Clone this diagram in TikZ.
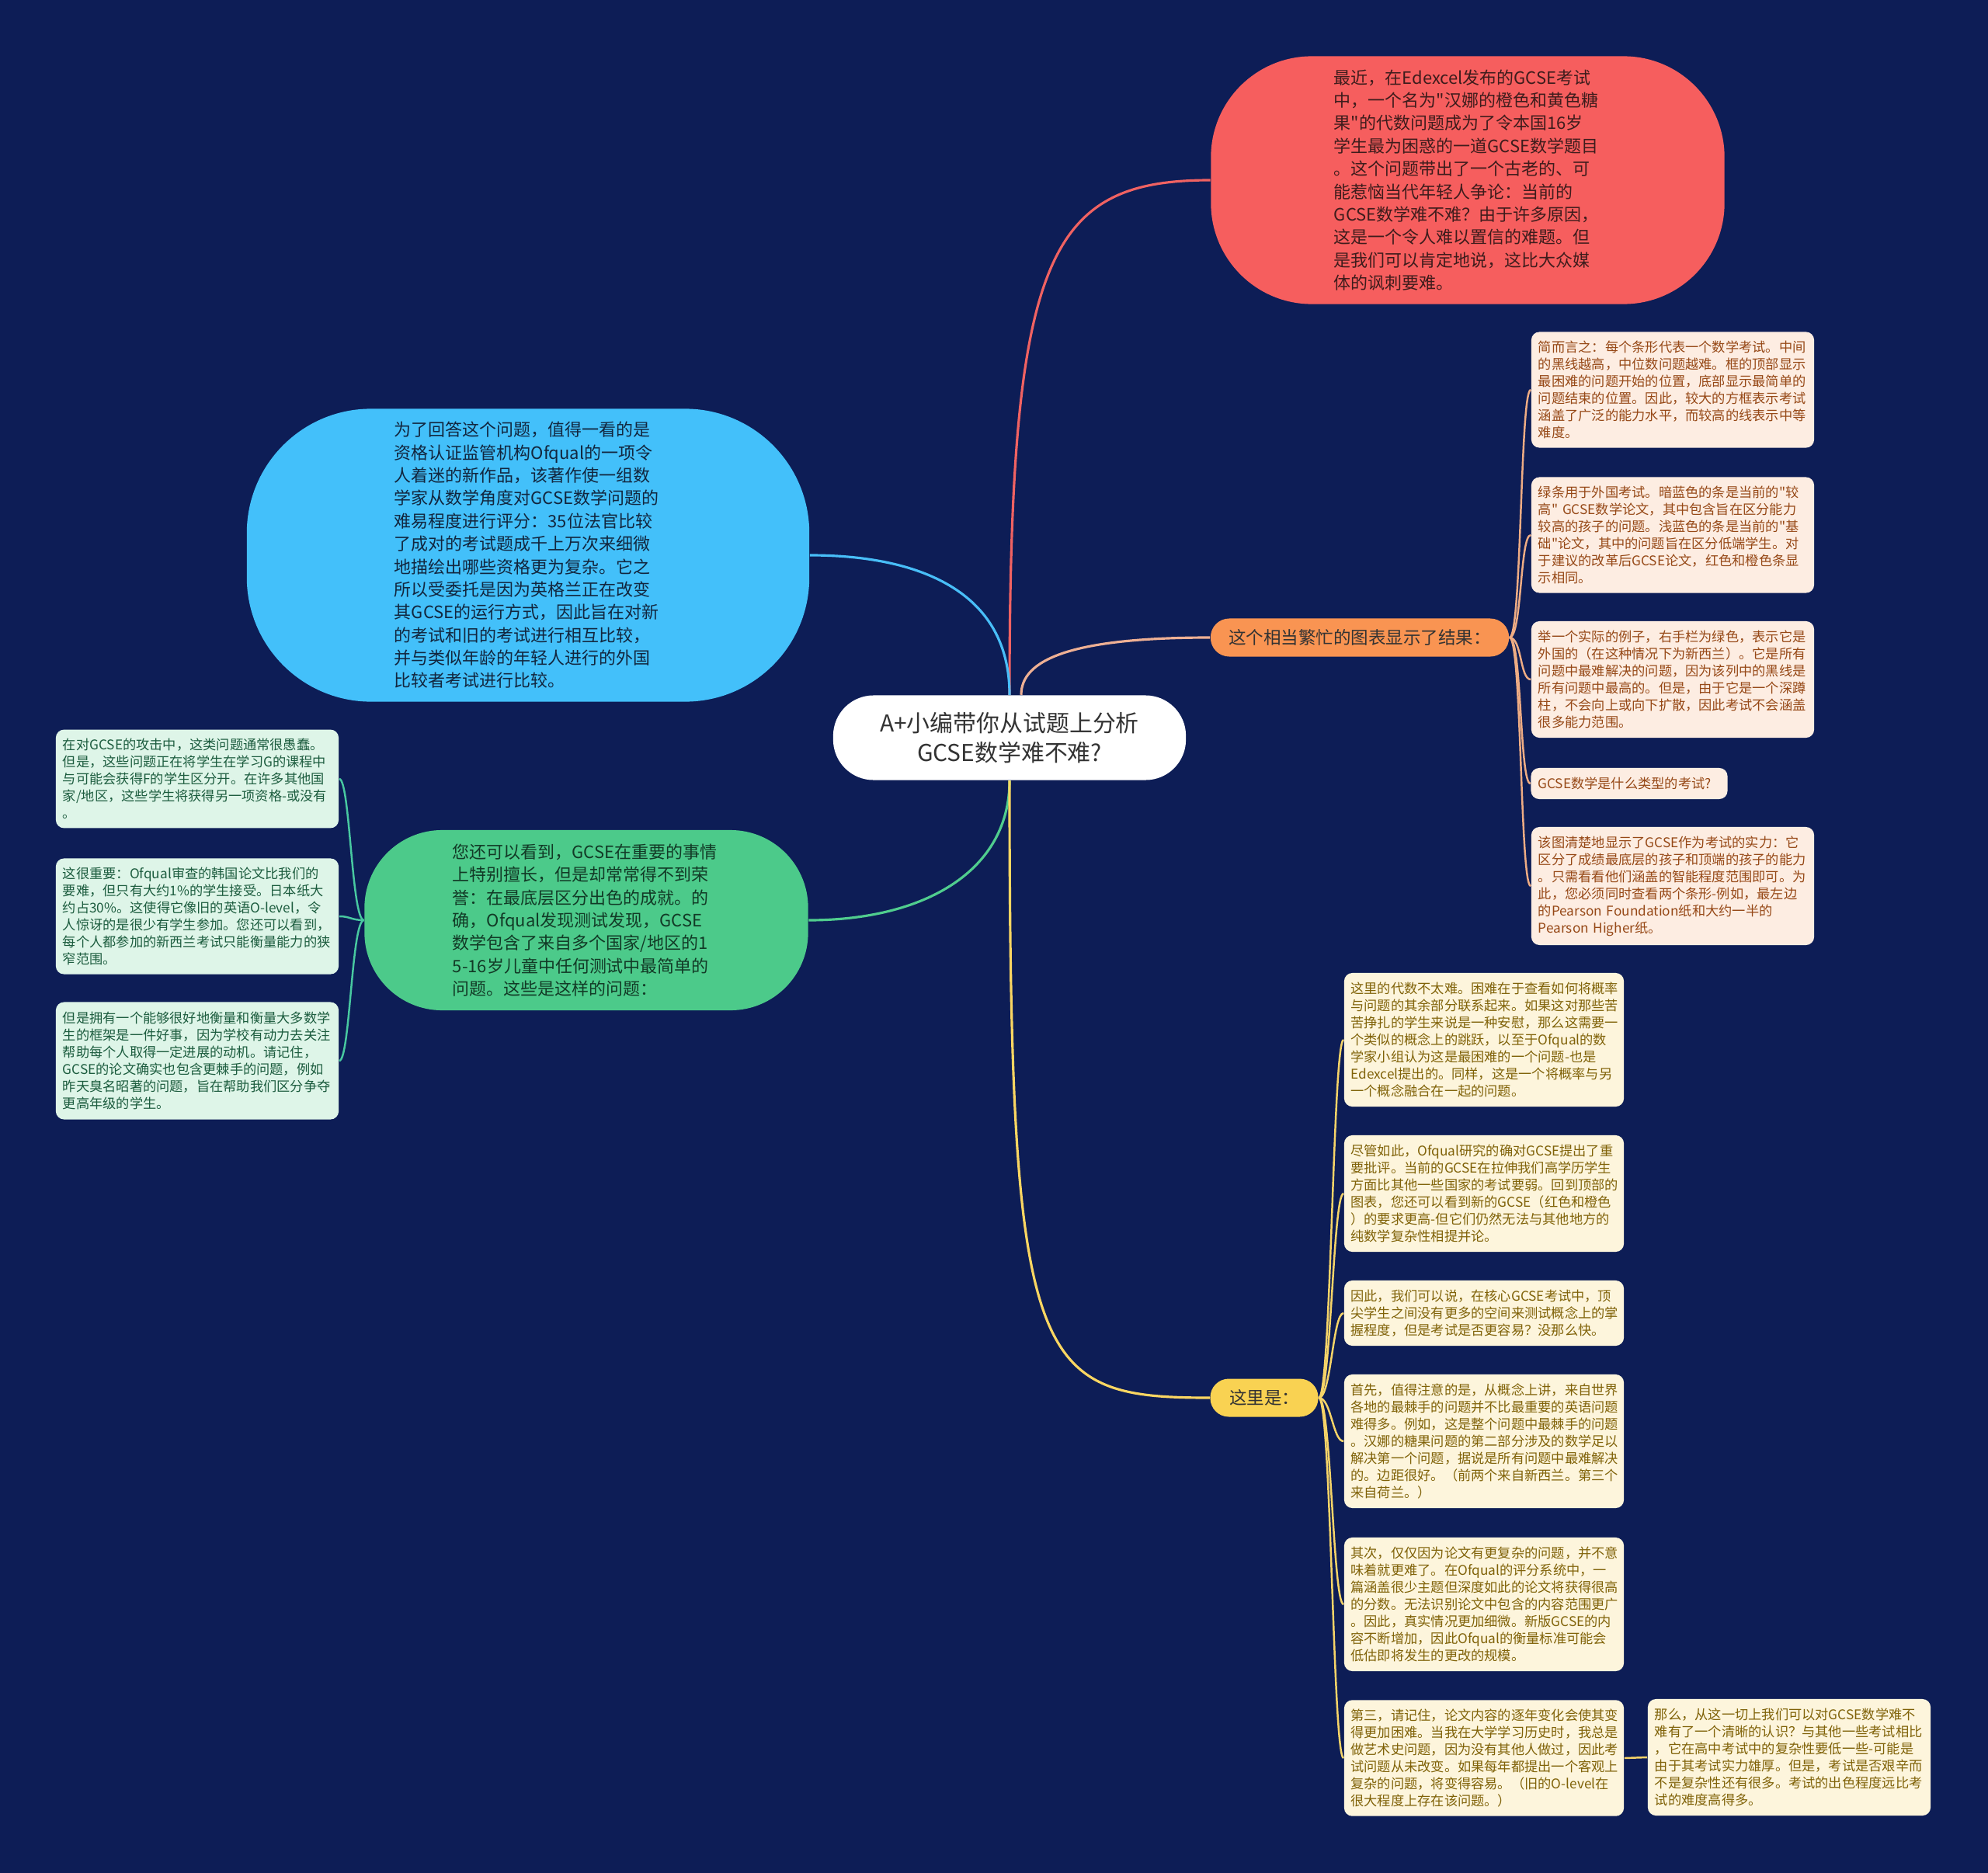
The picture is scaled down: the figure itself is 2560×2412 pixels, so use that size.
\documentclass[tikz,border=0pt]{standalone}
\usepackage{fontspec}
\setmainfont{Noto Sans CJK SC}[Ligatures=TeXOff]
\definecolor{bgNavy}{RGB}{13,29,86}
\definecolor{redFill}{RGB}{246,94,94}
\definecolor{blueFill}{RGB}{67,192,250}
\definecolor{greenFill}{RGB}{76,202,138}
\definecolor{orangeFill}{RGB}{249,148,82}
\definecolor{yellowFill}{RGB}{249,210,82}
\definecolor{orangeLeaf}{RGB}{253,237,226}
\definecolor{greenLeaf}{RGB}{222,245,232}
\definecolor{yellowLeaf}{RGB}{253,245,220}
\definecolor{orangeInk}{RGB}{150,72,22}
\definecolor{greenInk}{RGB}{28,92,62}
\definecolor{yellowInk}{RGB}{128,98,8}

\begin{document}
\begin{tikzpicture}[x=0.01cm,y=-0.01cm,
  root/.style={fill=white,rounded corners=0.52cm,minimum width=4.54cm,minimum height=1.09cm,
               align=center,text=black!80,font=\fontsize{8.5}{10.8}\selectfont},
  topic/.style={text width=3.44cm,align=left,font=\fontsize{6.25}{8.35}\selectfont},
  midtopic/.style={rounded corners=0.24cm,minimum height=0.49cm,text=black!80,
                   font=\fontsize{6.4}{8}\selectfont},
  leaf/.style={rounded corners=3pt,inner xsep=0.09cm,text width=3.46cm,align=left,
               font=\fontsize{4.9}{6.24}\selectfont},
  mainln/.style={line width=0.9pt},
  leafln/.style={line width=0.7pt}
]
  \fill[bgNavy] (0,0) rectangle (2560,2412);
  \useasboundingbox (0,0) rectangle (2560,2412);

  \node[root](root) at (1300,950) {A+小编带你从试题上分析\\GCSE数学难不难?};

  \node[topic,fill=redFill,rounded corners=1.3cm,minimum width=6.61cm,minimum height=3.19cm,
        text={rgb,255:red,62;green,28;blue,28}](intro) at (1890,232)
   {最近，在Edexcel发布的GCSE考试\\中，一个名为"汉娜的橙色和黄色糖\\果"的代数问题成为了令本国16岁\\学生最为困惑的一道GCSE数学题目\\。这个问题带出了一个古老的、可\\能惹恼当代年轻人争论：当前的\\GCSE数学难不难？由于许多原因，\\这是一个令人难以置信的难题。但\\是我们可以肯定地说，这比大众媒\\体的讽刺要难。};
  \node[topic,fill=blueFill,rounded corners=1.6cm,minimum width=7.24cm,minimum height=3.77cm,
        text={rgb,255:red,18;green,38;blue,62}](ofqual) at (680,715)
   {为了回答这个问题，值得一看的是\\资格认证监管机构Ofqual的一项令\\人着迷的新作品，该著作使一组数\\学家从数学角度对GCSE数学问题的\\难易程度进行评分：35位法官比较\\了成对的考试题成千上万次来细微\\地描绘出哪些资格更为复杂。它之\\所以受委托是因为英格兰正在改变\\其GCSE的运行方式，因此旨在对新\\的考试和旧的考试进行相互比较，\\并与类似年龄的年轻人进行的外国\\比较者考试进行比较。};
  \node[topic,fill=greenFill,rounded corners=1.0cm,minimum width=5.71cm,minimum height=2.32cm,
        text={rgb,255:red,18;green,58;blue,38}](lowend) at (755,1185)
   {您还可以看到，GCSE在重要的事情\\上特别擅长，但是却常常得不到荣\\誉：在最底层区分出色的成就。的\\确，Ofqual发现测试发现，GCSE\\数学包含了来自多个国家/地区的1\\5-16岁儿童中任何测试中最简单的\\问题。这些是这样的问题：};
  \node[midtopic,fill=orangeFill,minimum width=3.84cm](chart) at (1751,821) {这个相当繁忙的图表显示了结果：};
  \node[midtopic,fill=yellowFill,minimum width=1.39cm](here) at (1628,1800) {这里是：};

  \node[leaf,fill=orangeLeaf,text=orangeInk,minimum height=1.47cm](o1) at (2154,502)
   {简而言之：每个条形代表一个数学考试。中间\\的黑线越高，中位数问题越难。框的顶部显示\\最困难的问题开始的位置，底部显示最简单的\\问题结束的位置。因此，较大的方框表示考试\\涵盖了广泛的能力水平，而较高的线表示中等\\难度。};
  \node[leaf,fill=orangeLeaf,text=orangeInk,minimum height=1.48cm](o2) at (2154,689)
   {绿条用于外国考试。暗蓝色的条是当前的"较\\高" GCSE数学论文，其中包含旨在区分能力\\较高的孩子的问题。浅蓝色的条是当前的"基\\础"论文，其中的问题旨在区分低端学生。对\\于建议的改革后GCSE论文，红色和橙色条显\\示相同。};
  \node[leaf,fill=orangeLeaf,text=orangeInk,minimum height=1.5cm](o3) at (2154,875)
   {举一个实际的例子，右手栏为绿色，表示它是\\外国的（在这种情况下为新西兰）。它是所有\\问题中最难解决的问题，因为该列中的黑线是\\所有问题中最高的。但是，由于它是一个深蹲\\柱，不会向上或向下扩散，因此考试不会涵盖\\很多能力范围。};
  \node[leaf,fill=orangeLeaf,text=orangeInk,text width=2.35cm,minimum height=0.4cm](o4) at (2098,1009)
   {GCSE数学是什么类型的考试?};
  \node[leaf,fill=orangeLeaf,text=orangeInk,minimum height=1.5cm](o5) at (2154,1141)
   {该图清楚地显示了GCSE作为考试的实力：它\\区分了成绩最底层的孩子和顶端的孩子的能力\\。只需看看他们涵盖的智能程度范围即可。为\\此，您必须同时查看两个条形-例如，最左边\\的Pearson Foundation纸和大约一半的\\Pearson Higher纸。};

  \node[leaf,fill=greenLeaf,text=greenInk,minimum height=1.26cm](g1) at (254,1003)
   {在对GCSE的攻击中，这类问题通常很愚蠢。\\但是，这些问题正在将学生在学习G的课程中\\与可能会获得F的学生区分开。在许多其他国\\家/地区，这些学生将获得另一项资格-或没有\\。};
  \node[leaf,fill=greenLeaf,text=greenInk,minimum height=1.47cm](g2) at (254,1180)
   {这很重要：Ofqual审查的韩国论文比我们的\\要难，但只有大约1\%的学生接受。日本纸大\\约占30\%。这使得它像旧的英语O-level，令\\人惊讶的是很少有学生参加。您还可以看到，\\每个人都参加的新西兰考试只能衡量能力的狭\\窄范围。};
  \node[leaf,fill=greenLeaf,text=greenInk,minimum height=1.51cm](g3) at (254,1366)
   {但是拥有一个能够很好地衡量和衡量大多数学\\生的框架是一件好事，因为学校有动力去关注\\帮助每个人取得一定进展的动机。请记住，\\GCSE的论文确实也包含更棘手的问题，例如\\昨天臭名昭著的问题，旨在帮助我们区分争夺\\更高年级的学生。};

  \node[leaf,fill=yellowLeaf,text=yellowInk,text width=3.43cm,inner xsep=0.085cm,minimum height=1.72cm](y1) at (1911,1339)
   {这里的代数不太难。困难在于查看如何将概率\\与问题的其余部分联系起来。如果这对那些苦\\苦挣扎的学生来说是一种安慰，那么这需要一\\个类似的概念上的跳跃，以至于Ofqual的数\\学家小组认为这是最困难的一个问题-也是\\Edexcel提出的。同样，这是一个将概率与另\\一个概念融合在一起的问题。};
  \node[leaf,fill=yellowLeaf,text=yellowInk,text width=3.43cm,inner xsep=0.085cm,minimum height=1.5cm](y2) at (1911,1537)
   {尽管如此，Ofqual研究的确对GCSE提出了重\\要批评。当前的GCSE在拉伸我们高学历学生\\方面比其他一些国家的考试要弱。回到顶部的\\图表，您还可以看到新的GCSE（红色和橙色\\）的要求更高-但它们仍然无法与其他地方的\\纯数学复杂性相提并论。};
  \node[leaf,fill=yellowLeaf,text=yellowInk,text width=3.43cm,inner xsep=0.085cm,minimum height=0.84cm](y3) at (1911,1691)
   {因此，我们可以说，在核心GCSE考试中，顶\\尖学生之间没有更多的空间来测试概念上的掌\\握程度，但是考试是否更容易？没那么快。};
  \node[leaf,fill=yellowLeaf,text=yellowInk,text width=3.43cm,inner xsep=0.085cm,minimum height=1.72cm](y4) at (1911,1856)
   {首先，值得注意的是，从概念上讲，来自世界\\各地的最棘手的问题并不比最重要的英语问题\\难得多。例如，这是整个问题中最棘手的问题\\。汉娜的糖果问题的第二部分涉及的数学足以\\解决第一个问题，据说是所有问题中最难解决\\的。边距很好。（前两个来自新西兰。第三个\\来自荷兰。）};
  \node[leaf,fill=yellowLeaf,text=yellowInk,text width=3.43cm,inner xsep=0.085cm,minimum height=1.72cm](y5) at (1911,2066)
   {其次，仅仅因为论文有更复杂的问题，并不意\\味着就更难了。在Ofqual的评分系统中，一\\篇涵盖很少主题但深度如此的论文将获得很高\\的分数。无法识别论文中包含的内容范围更广\\。因此，真实情况更加细微。新版GCSE的内\\容不断增加，因此Ofqual的衡量标准可能会\\低估即将发生的更改的规模。};
  \node[leaf,fill=yellowLeaf,text=yellowInk,text width=3.43cm,inner xsep=0.085cm,minimum height=1.48cm](y6) at (1911,2264)
   {第三，请记住，论文内容的逐年变化会使其变\\得更加困难。当我在大学学习历史时，我总是\\做艺术史问题，因为没有其他人做过，因此考\\试问题从未改变。如果每年都提出一个客观上\\复杂的问题，将变得容易。（旧的O-level在\\很大程度上存在该问题。）};
  \node[leaf,fill=yellowLeaf,text=yellowInk,minimum height=1.5cm](y7) at (2304,2263)
   {那么，从这一切上我们可以对GCSE数学难不\\难有了一个清晰的认识？与其他一些考试相比\\，它在高中考试中的复杂性要低一些-可能是\\由于其考试实力雄厚。但是，考试是否艰辛而\\不是复杂性还有很多。考试的出色程度远比考\\试的难度高得多。};

  \draw[mainln,draw={rgb,255:red,240;green,98;blue,98}](root.north)
      .. controls +(0,-565) and +(-210,0) .. (intro.west);
  \draw[mainln,draw={rgb,255:red,72;green,190;blue,248}](root.north)
      .. controls +(0,-135) and +(138,0) .. (ofqual.east);
  \draw[mainln,draw={rgb,255:red,238;green,176;blue,148}]([xshift=0.15cm]root.north)
      .. controls +(0,-45) and +(-180,0) .. (chart.west);
  \draw[mainln,draw={rgb,255:red,80;green,205;blue,142}](root.south)
      .. controls +(0,116) and +(150,0) .. (lowend.east);
  \draw[mainln,draw={rgb,255:red,250;green,214;blue,98}](root.south)
      .. controls +(0,756) and +(-229,0) .. (here.west);

  \foreach \n in {o1,o2,o3,o4,o5}
    \draw[leafln,draw={rgb,255:red,238;green,172;blue,132}](chart.east)
      .. controls +(16,0) and +(-14,0) .. (\n.west);
  \foreach \n in {g1,g2,g3}
    \draw[leafln,draw={rgb,255:red,72;green,200;blue,160}](lowend.west)
      .. controls +(-16,0) and +(14,0) .. (\n.east);
  \foreach \n in {y1,y2,y3,y4,y5,y6}
    \draw[leafln,draw={rgb,255:red,246;green,212;blue,104}](here.east)
      .. controls +(16,0) and +(-14,0) .. (\n.west);
  \draw[leafln,draw={rgb,255:red,246;green,212;blue,104}](y6.east)--(y7.west);
\end{tikzpicture}
\end{document}
